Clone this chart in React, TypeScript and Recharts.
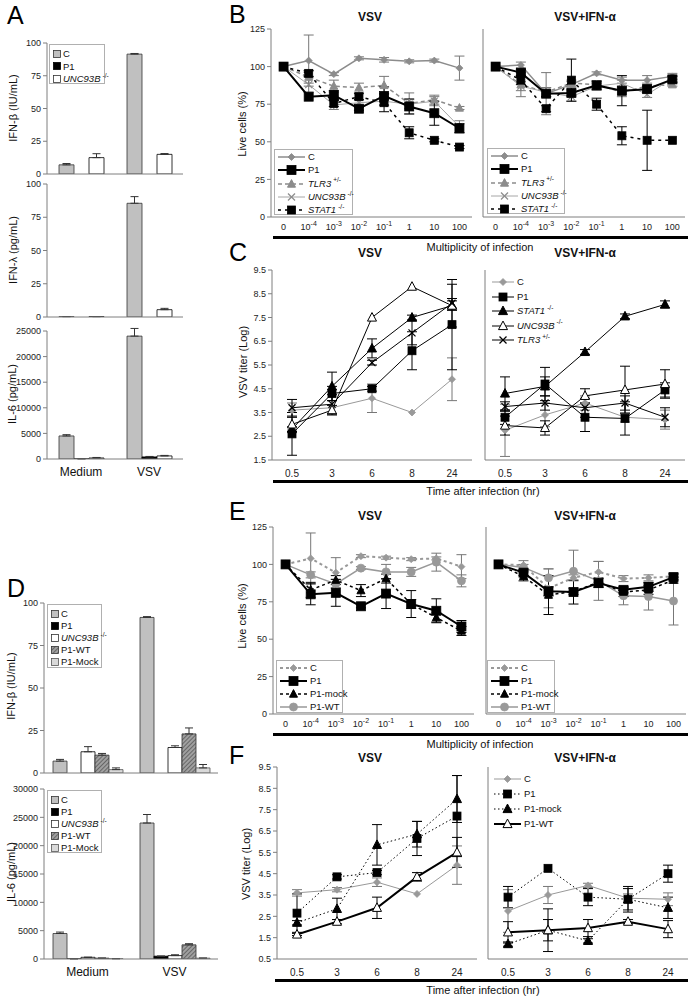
import React from 'react';
import { BarChart, Bar, LineChart, Line, XAxis, YAxis, ErrorBar } from 'recharts';

const FONT = '"Liberation Sans", Arial, Helvetica, sans-serif';

// ---------- categories and ticks ----------
const groups = ['Medium', 'VSV'];
const mois = ['0', '-4', '-3', '-2', '-1', '1', '10', '100'];
const hours = ['0.5', '3', '6', '8', '24'];

const pctTicks = [0, 25, 50, 75, 100, 125];
const ifnTicks = [0, 25, 50, 75, 100];
const il6TicksA = [0, 5000, 10000, 15000, 20000, 25000];
const il6TicksD = [0, 5000, 10000, 15000, 20000, 25000, 30000];
const titerTicksC = [1.5, 2.5, 3.5, 4.5, 5.5, 6.5, 7.5, 8.5, 9.5];
const titerTicksF = [0.5, 1.5, 2.5, 3.5, 4.5, 5.5, 6.5, 7.5, 8.5, 9.5];

// ---------- A: cytokines ----------
const aIfnbC = [7, 91.5];
const aIfnbP1 = [0, 0];
const aIfnbUnc = [12.5, 15];
const aIfnbCErr = [1, 0.5];
const aIfnbP1Err = [0, 0];
const aIfnbUncErr = [3, 0.6];

const aIfnlC = [0.3, 85.5];
const aIfnlP1 = [0, 0];
const aIfnlUnc = [0.3, 5.5];
const aIfnlCErr = [0, 5];
const aIfnlP1Err = [0, 0];
const aIfnlUncErr = [0, 1];

const aIl6C = [4500, 24000];
const aIl6P1 = [30, 400];
const aIl6Unc = [200, 600];
const aIl6CErr = [250, 1500];
const aIl6P1Err = [0, 100];
const aIl6UncErr = [100, 100];

// ---------- D: cytokines with complemented cells ----------
const dIfnbC = [7, 91.5];
const dIfnbP1 = [0, 0];
const dIfnbUnc = [12.5, 15];
const dIfnbWt = [10.5, 23];
const dIfnbMock = [2, 3];
const dIfnbCErr = [1, 0.5];
const dIfnbP1Err = [0, 0];
const dIfnbUncErr = [3, 1];
const dIfnbWtErr = [1, 3.5];
const dIfnbMockErr = [1, 2];

const dIl6C = [4500, 24000];
const dIl6P1 = [20, 500];
const dIl6Unc = [300, 600];
const dIl6Wt = [150, 2500];
const dIl6Mock = [50, 150];
const dIl6CErr = [250, 1500];
const dIl6P1Err = [0, 0];
const dIl6UncErr = [0, 150];
const dIl6WtErr = [0, 200];
const dIl6MockErr = [0, 0];

// ---------- B: live cells ----------
const bVsvC = [100, 104, 95, 105.5, 104.5, 103.5, 104, 99];
const bVsvCErr = [0, 17, 1, 1, 1.5, 1, 1, 8];
const bVsvP1 = [100, 80, 81, 72, 80.5, 73.5, 69, 59];
const bVsvP1Err = [0, 0, 3, 1, 6, 5, 8, 3];
const bVsvTlr3 = [100, 93, 87, 86, 87.5, 75.5, 78, 72.5];
const bVsvTlr3Err = [0, 4, 4, 3, 6, 7, 3, 1];
const bVsvUnc = [100, 88, 74.5, 76, 77, 75, 77, 60];
const bVsvUncErr = [0, 5, 3, 2, 3, 3, 3, 4];
const bVsvStat1 = [100, 95.5, 75.5, 80, 76, 56, 51, 46.5];
const bVsvStat1Err = [0, 2, 2, 2, 6, 4, 1, 1];

const bIfnC = [100, 101, 82, 88, 95.5, 91, 91, 93.5];
const bIfnCErr = [0, 2, 14, 2, 1, 2, 3, 2];
const bIfnP1 = [100, 96, 82, 82.5, 87.5, 84, 85, 91.5];
const bIfnP1Err = [0, 2, 2, 2, 3, 10, 2, 2];
const bIfnTlr3 = [100, 88, 83, 89, 88, 83, 87, 88];
const bIfnTlr3Err = [0, 8, 3, 2, 2, 3, 2, 1];
const bIfnUnc = [100, 87, 83, 80, 87, 89, 81.5, 92];
const bIfnUncErr = [0, 3, 3, 3, 2, 2, 2, 2];
const bIfnStat1 = [100, 91, 72, 91, 75, 54, 51, 51];
const bIfnStat1Err = [0, 3, 2, 14, 4, 6, 20, 0];

// ---------- C: VSV titer ----------
const cVsvC = [3.6, 3.7, 4.1, 3.5, 4.9];
const cVsvCErr = [0.3, 0.3, 0.6, 0, 0.9];
const cVsvP1 = [2.6, 4.3, 4.5, 6.1, 7.2];
const cVsvP1Err = [0.9, 0.3, 0.1, 0.8, 1.9];
const cVsvStat1 = [2.8, 4.6, 6.2, 7.5, 8.0];
const cVsvStat1Err = [0.1, 0.6, 0.4, 0.1, 0.9];
const cVsvUnc = [3.0, 3.6, 7.5, 8.8, 8.0];
const cVsvUncErr = [0.3, 0.2, 0, 0, 0.2];
const cVsvTlr3 = [3.7, 3.85, 5.6, 6.85, 8.1];
const cVsvTlr3Err = [0.35, 0.4, 0.1, 0.5, 0.2];

const cIfnC = [2.75, 3.4, 3.9, 3.3, 3.2];
const cIfnCErr = [1.1, 0.5, 0.3, 0.2, 0.4];
const cIfnP1 = [3.3, 4.7, 3.3, 3.25, 4.45];
const cIfnP1Err = [0.3, 0.7, 0.6, 0.7, 0.3];
const cIfnStat1 = [4.3, 4.6, 6.05, 7.55, 8.05];
const cIfnStat1Err = [0.7, 0.4, 0.1, 0.1, 0.15];
const cIfnUnc = [2.95, 2.85, 4.2, 4.45, 4.7];
const cIfnUncErr = [0.4, 0.3, 0.3, 1.0, 0.6];
const cIfnTlr3 = [3.75, 3.9, 3.7, 3.9, 3.3];
const cIfnTlr3Err = [0.2, 0.3, 0.4, 0.3, 0.4];

// ---------- E: live cells, complemented ----------
const eVsvC = [100, 104, 94.5, 105.5, 104.5, 103.5, 104, 98.5];
const eVsvCErr = [0, 17, 10, 1, 1, 1, 1, 8];
const eVsvP1 = [100, 80, 81, 72, 80.5, 73.5, 69, 58.5];
const eVsvP1Err = [0, 7, 9, 1, 10, 9, 8, 4];
const eVsvMock = [100, 83, 89.5, 82.5, 90.5, 73.5, 64.5, 55.5];
const eVsvMockErr = [0, 5, 3, 4, 3, 3, 3, 3];
const eVsvWt = [100, 93, 87, 97.5, 95, 95, 101.5, 89];
const eVsvWtErr = [0, 2, 3, 1, 5, 3, 6, 4];

const eIfnC = [100, 99.5, 84, 91, 95, 90.5, 91, 92];
const eIfnCErr = [0, 3, 13, 2, 7, 2, 2, 2];
const eIfnP1 = [100, 94.5, 82, 81.5, 87.5, 83, 85, 91.5];
const eIfnP1Err = [0, 2, 3, 8, 3, 2, 3, 2];
const eIfnMock = [100, 92, 79.5, 82, 88, 81.5, 83, 89.5];
const eIfnMockErr = [0, 3, 13, 2, 3, 3, 3, 2];
const eIfnWt = [100, 98, 91, 95.5, 89, 79, 78.5, 75.5];
const eIfnWtErr = [0, 2, 6, 14, 13, 6, 9, 16];

// ---------- F: VSV titer, complemented ----------
const fVsvC = [3.6, 3.75, 4.1, 3.55, 4.9];
const fVsvCErr = [0.15, 0.1, 0.2, 0, 0.9];
const fVsvP1 = [2.65, 4.35, 4.55, 6.15, 7.2];
const fVsvP1Err = [0.9, 0.1, 0.1, 0.8, 1.9];
const fVsvMock = [2.2, 2.85, 5.85, 6.35, 8.0];
const fVsvMockErr = [0.1, 0.5, 0.95, 0.6, 1.1];
const fVsvWt = [1.65, 2.25, 2.9, 4.35, 5.5];
const fVsvWtErr = [0.05, 0.1, 0.5, 0.2, 0.7];

const fIfnC = [2.75, 3.5, 3.95, 3.35, 3.3];
const fIfnCErr = [1.0, 0.4, 0.1, 0.2, 0.3];
const fIfnP1 = [3.4, 4.75, 3.4, 3.3, 4.5];
const fIfnP1Err = [0.5, 0, 0.4, 0.5, 0.4];
const fIfnMock = [1.2, 1.85, 1.35, 3.3, 2.9];
const fIfnMockErr = [0.1, 1.0, 0.1, 0.6, 0.5];
const fIfnWt = [1.75, 1.85, 1.95, 2.25, 1.9];
const fIfnWtErr = [0.5, 0.5, 0.4, 0.1, 0.4];

// ---------- table builders ----------
type Col = [string, number[], number[]];

const barRows = (cats: string[], cols: Col[]) =>
  cats.map((cat, i) => {
    const row: Record<string, any> = { cat };
    cols.forEach(([k, v, e]) => {
      row[k] = v[i];
      row[k + 'E'] = [0, e[i]];
    });
    return row;
  });

const lineRows = (cats: string[], cols: Col[]) =>
  cats.map((cat, i) => {
    const row: Record<string, any> = { cat };
    cols.forEach(([k, v, e]) => {
      row[k] = v[i];
      row[k + 'E'] = e[i];
    });
    return row;
  });

// ---------- markers ----------
type Shape = 'diamond' | 'square' | 'triangle' | 'circle' | 'x';

const Marker = ({ shape, cx, cy, fill, stroke, s }: { shape: Shape; cx: number; cy: number; fill: string; stroke: string; s: number }) => {
  if (shape === 'diamond')
    return <polygon points={`${cx},${cy - s} ${cx + s},${cy} ${cx},${cy + s} ${cx - s},${cy}`} fill={fill} stroke={stroke} strokeWidth={0.8} />;
  if (shape === 'square') return <rect x={cx - s} y={cy - s} width={2 * s} height={2 * s} fill={fill} stroke={stroke} strokeWidth={0.8} />;
  if (shape === 'triangle')
    return <polygon points={`${cx},${cy - s * 1.1} ${cx + s},${cy + s * 0.8} ${cx - s},${cy + s * 0.8}`} fill={fill} stroke={stroke} strokeWidth={1} />;
  if (shape === 'circle') return <circle cx={cx} cy={cy} r={s} fill={fill} stroke={stroke} strokeWidth={0.8} />;
  return (
    <g stroke={stroke} strokeWidth={1.2}>
      <line x1={cx - s} y1={cy - s} x2={cx + s} y2={cy + s} />
      <line x1={cx - s} y1={cy + s} x2={cx + s} y2={cy - s} />
    </g>
  );
};

type Spec = {
  key: string;
  color: string;
  width: number;
  dash?: string;
  shape: Shape;
  fill: string;
  mstroke: string;
  size: number;
};

const dotFn = (sp: Spec) => (p: any) =>
  <Marker key={`${sp.key}-${p.index}`} shape={sp.shape} cx={p.cx} cy={p.cy} fill={sp.fill} stroke={sp.mstroke} s={sp.size} />;

const GRAY = '#8c8c8c';

const bSpecs: Spec[] = [
  { key: 'C', color: GRAY, width: 1.5, shape: 'diamond', fill: GRAY, mstroke: GRAY, size: 3.5 },
  { key: 'TLR3', color: GRAY, width: 1.5, dash: '4 3', shape: 'triangle', fill: GRAY, mstroke: GRAY, size: 4 },
  { key: 'UNC', color: '#a6a6a6', width: 1, shape: 'x', fill: 'none', mstroke: GRAY, size: 3.5 },
  { key: 'STAT1', color: '#000', width: 1.5, dash: '3 4', shape: 'square', fill: '#000', mstroke: '#000', size: 4 },
  { key: 'P1', color: '#000', width: 2, shape: 'square', fill: '#000', mstroke: '#000', size: 4.5 },
];

const cSpecs: Spec[] = [
  { key: 'C', color: '#999', width: 1, shape: 'diamond', fill: '#999', mstroke: '#999', size: 3.5 },
  { key: 'P1', color: '#000', width: 1, shape: 'square', fill: '#000', mstroke: '#000', size: 4 },
  { key: 'STAT1', color: '#000', width: 1, shape: 'triangle', fill: '#000', mstroke: '#000', size: 4.5 },
  { key: 'UNC', color: '#000', width: 1, shape: 'triangle', fill: '#fff', mstroke: '#000', size: 4.5 },
  { key: 'TLR3', color: '#000', width: 1, shape: 'x', fill: 'none', mstroke: '#000', size: 3.5 },
];

const eSpecs: Spec[] = [
  { key: 'C', color: '#999', width: 2, dash: '3 3', shape: 'diamond', fill: '#999', mstroke: '#999', size: 3.5 },
  { key: 'WT', color: '#999', width: 1.5, shape: 'circle', fill: '#999', mstroke: '#999', size: 4 },
  { key: 'Mock', color: '#000', width: 1.5, dash: '3 3', shape: 'triangle', fill: '#000', mstroke: '#000', size: 4 },
  { key: 'P1', color: '#000', width: 2, shape: 'square', fill: '#000', mstroke: '#000', size: 4.5 },
];

const fSpecs: Spec[] = [
  { key: 'C', color: '#999', width: 1, shape: 'diamond', fill: '#999', mstroke: '#999', size: 3.5 },
  { key: 'P1', color: '#000', width: 1, dash: '1.5 2.5', shape: 'square', fill: '#000', mstroke: '#000', size: 4 },
  { key: 'Mock', color: '#000', width: 1, dash: '1.5 2.5', shape: 'triangle', fill: '#000', mstroke: '#000', size: 4.5 },
  { key: 'WT', color: '#000', width: 2, shape: 'triangle', fill: '#fff', mstroke: '#000', size: 4.5 },
];

const specOf = (list: Spec[], key: string) => list.find((s) => s.key === key) as Spec;

// ---------- data tables ----------
const aIfnbRows = barRows(groups, [['C', aIfnbC, aIfnbCErr], ['P1', aIfnbP1, aIfnbP1Err], ['UNC', aIfnbUnc, aIfnbUncErr]]);
const aIfnlRows = barRows(groups, [['C', aIfnlC, aIfnlCErr], ['P1', aIfnlP1, aIfnlP1Err], ['UNC', aIfnlUnc, aIfnlUncErr]]);
const aIl6Rows = barRows(groups, [['C', aIl6C, aIl6CErr], ['P1', aIl6P1, aIl6P1Err], ['UNC', aIl6Unc, aIl6UncErr]]);
const dIfnbRows = barRows(groups, [
  ['C', dIfnbC, dIfnbCErr], ['P1', dIfnbP1, dIfnbP1Err], ['UNC', dIfnbUnc, dIfnbUncErr], ['WT', dIfnbWt, dIfnbWtErr], ['Mock', dIfnbMock, dIfnbMockErr],
]);
const dIl6Rows = barRows(groups, [
  ['C', dIl6C, dIl6CErr], ['P1', dIl6P1, dIl6P1Err], ['UNC', dIl6Unc, dIl6UncErr], ['WT', dIl6Wt, dIl6WtErr], ['Mock', dIl6Mock, dIl6MockErr],
]);

const bVsvRows = lineRows(mois, [
  ['C', bVsvC, bVsvCErr], ['P1', bVsvP1, bVsvP1Err], ['TLR3', bVsvTlr3, bVsvTlr3Err], ['UNC', bVsvUnc, bVsvUncErr], ['STAT1', bVsvStat1, bVsvStat1Err],
]);
const bIfnRows = lineRows(mois, [
  ['C', bIfnC, bIfnCErr], ['P1', bIfnP1, bIfnP1Err], ['TLR3', bIfnTlr3, bIfnTlr3Err], ['UNC', bIfnUnc, bIfnUncErr], ['STAT1', bIfnStat1, bIfnStat1Err],
]);
const cVsvRows = lineRows(hours, [
  ['C', cVsvC, cVsvCErr], ['P1', cVsvP1, cVsvP1Err], ['STAT1', cVsvStat1, cVsvStat1Err], ['UNC', cVsvUnc, cVsvUncErr], ['TLR3', cVsvTlr3, cVsvTlr3Err],
]);
const cIfnRows = lineRows(hours, [
  ['C', cIfnC, cIfnCErr], ['P1', cIfnP1, cIfnP1Err], ['STAT1', cIfnStat1, cIfnStat1Err], ['UNC', cIfnUnc, cIfnUncErr], ['TLR3', cIfnTlr3, cIfnTlr3Err],
]);
const eVsvRows = lineRows(mois, [['C', eVsvC, eVsvCErr], ['P1', eVsvP1, eVsvP1Err], ['Mock', eVsvMock, eVsvMockErr], ['WT', eVsvWt, eVsvWtErr]]);
const eIfnRows = lineRows(mois, [['C', eIfnC, eIfnCErr], ['P1', eIfnP1, eIfnP1Err], ['Mock', eIfnMock, eIfnMockErr], ['WT', eIfnWt, eIfnWtErr]]);
const fVsvRows = lineRows(hours, [['C', fVsvC, fVsvCErr], ['P1', fVsvP1, fVsvP1Err], ['Mock', fVsvMock, fVsvMockErr], ['WT', fVsvWt, fVsvWtErr]]);
const fIfnRows = lineRows(hours, [['C', fIfnC, fIfnCErr], ['P1', fIfnP1, fIfnP1Err], ['Mock', fIfnMock, fIfnMockErr], ['WT', fIfnWt, fIfnWtErr]]);

// ---------- ticks ----------
const MoiTick = ({ x, y, payload }: any) => {
  const v = String(payload.value);
  if (v.startsWith('-'))
    return (
      <text x={x} y={y + 13} textAnchor="middle" fontSize={9} fill="#222" fontFamily={FONT}>
        <tspan>10</tspan>
        <tspan dy={-4} fontSize={7}>{v}</tspan>
      </text>
    );
  return (
    <text x={x} y={y + 13} textAnchor="middle" fontSize={9} fill="#222" fontFamily={FONT}>
      {v}
    </text>
  );
};

const HourTick = ({ x, y, payload }: any) => (
  <text x={x} y={y + 17} textAnchor="middle" fontSize={10} fill="#222" fontFamily={FONT}>
    {payload.value}
  </text>
);

// ---------- panels ----------
type BarSpec = { key: string; fill: string; stroke: string };

const barSpecs3: BarSpec[] = [
  { key: 'C', fill: '#c0c0c0', stroke: '#333' },
  { key: 'P1', fill: '#000', stroke: '#000' },
  { key: 'UNC', fill: '#fff', stroke: '#000' },
];
const barSpecs5: BarSpec[] = [
  ...barSpecs3,
  { key: 'WT', fill: 'url(#hatchWT)', stroke: '#333' },
  { key: 'Mock', fill: '#d9d9d9', stroke: '#555' },
];

function BarPanel({ x0, y0, x1, y1, rows, specs, max, ticks, barSize, showCats }: {
  x0: number; y0: number; x1: number; y1: number; rows: any[]; specs: BarSpec[]; max: number; ticks: number[]; barSize: number; showCats: boolean;
}) {
  const yw = 42;
  const top = 6;
  const right = 6;
  const xh = showCats ? 24 : 8;
  return (
    <div style={{ position: 'absolute', left: x0 - yw, top: y0 - top }}>
      <BarChart width={x1 - x0 + yw + right} height={y1 - y0 + top + xh} data={rows} margin={{ top, right, left: 0, bottom: 0 }} barGap={0} barSize={barSize}>
        <XAxis dataKey="cat" height={xh} tickLine={false} axisLine={{ stroke: '#7f7f7f' }} tick={showCats ? { fontSize: 12, fill: '#111', fontFamily: FONT } : false} />
        <YAxis width={yw} domain={[0, max]} ticks={ticks} interval={0} tickSize={4} allowDataOverflow axisLine={{ stroke: '#7f7f7f' }} tickLine={{ stroke: '#7f7f7f' }} tick={{ fontSize: 9, fill: '#222', fontFamily: FONT }} />
        {specs.map((s) => (
          <Bar key={s.key} dataKey={s.key} fill={s.fill} stroke={s.stroke} strokeWidth={0.8} isAnimationActive={false}>
            <ErrorBar dataKey={`${s.key}E`} width={4} stroke="#333" strokeWidth={1} />
          </Bar>
        ))}
      </BarChart>
    </div>
  );
}

function LinePanel({ x0, y0, x1, y1, rows, specs, domain, ticks, yLabels, kind }: {
  x0: number; y0: number; x1: number; y1: number; rows: any[]; specs: Spec[]; domain: [number, number]; ticks: number[]; yLabels: boolean; kind: 'moi' | 'hour';
}) {
  const yw = 32;
  const top = 6;
  const right = 4;
  const xh = 22;
  const n = rows.length;
  const pad = (x1 - x0) / n / 2;
  return (
    <div style={{ position: 'absolute', left: x0 - yw, top: y0 - top }}>
      <LineChart width={x1 - x0 + yw + right} height={y1 - y0 + top + xh} data={rows} margin={{ top, right, left: 0, bottom: 0 }}>
        <XAxis dataKey="cat" type="category" height={xh} padding={{ left: pad, right: pad }} interval={0} tickLine={false} tickSize={0} tickMargin={0} axisLine={{ stroke: '#7f7f7f' }} tick={kind === 'moi' ? <MoiTick /> : <HourTick />} />
        <YAxis type="number" width={yw} domain={domain} ticks={ticks} interval={0} tickSize={4} allowDataOverflow axisLine={{ stroke: '#7f7f7f' }} tickLine={{ stroke: '#7f7f7f' }} tick={yLabels ? { fontSize: 9, fill: '#222', fontFamily: FONT } : false} />
        {specs.map((s) => (
          <Line key={s.key} type="linear" dataKey={s.key} stroke={s.color} strokeWidth={s.width} strokeDasharray={s.dash} dot={dotFn(s)} activeDot={false} isAnimationActive={false}>
            <ErrorBar dataKey={`${s.key}E`} width={5} stroke={s.color === '#000' ? '#000' : '#777'} strokeWidth={1} direction="y" />
          </Line>
        ))}
      </LineChart>
    </div>
  );
}

// ---------- text helpers ----------
const abs = (left: number, top: number, extra: React.CSSProperties = {}): React.CSSProperties => ({ position: 'absolute', left, top, ...extra });

const Letter = ({ x, y, t }: { x: number; y: number; t: string }) => (
  <div style={abs(x, y, { fontSize: 25, lineHeight: '25px', color: '#000' })}>{t}</div>
);

const Title = ({ cx, cy, t }: { cx: number; cy: number; t: string }) => (
  <div style={abs(cx - 60, cy - 8, { width: 120, textAlign: 'center', fontSize: 12, fontWeight: 'bold', lineHeight: '16px' })}>{t}</div>
);

const YLabel = ({ cx, cy, t }: { cx: number; cy: number; t: string }) => (
  <div style={abs(cx - 60, cy - 7, { width: 120, textAlign: 'center', fontSize: 11, lineHeight: '14px', transform: 'rotate(-90deg)', whiteSpace: 'nowrap' })}>{t}</div>
);

const Rule = ({ x0, x1, y }: { x0: number; x1: number; y: number }) => (
  <div style={abs(x0, y - 1, { width: x1 - x0, height: 2.5, background: '#000' })} />
);

const XCaption = ({ cx, cy, t }: { cx: number; cy: number; t: string }) => (
  <div style={abs(cx - 100, cy - 7, { width: 200, textAlign: 'center', fontSize: 11, lineHeight: '14px' })}>{t}</div>
);

const geno = (name: string, sup: string) => (
  <>
    <i>{name}</i>
    <sup style={{ fontSize: 6.5, lineHeight: 0, marginLeft: 2 }}>{sup}</sup>
  </>
);

function BarLegend({ left, top, width, height, items, step }: {
  left: number; top: number; width: number; height: number; items: { label: React.ReactNode; fill: string; stroke: string }[]; step: number;
}) {
  return (
    <div style={abs(left, top, { width, height, border: '1px solid #b0b0b0', boxSizing: 'border-box', background: '#fff' })}>
      {items.map((it, i) => (
        <div key={i} style={abs(3, 3 + i * step, { height: 11, display: 'flex', alignItems: 'center', whiteSpace: 'nowrap', fontSize: 9.5, lineHeight: '11px' })}>
          <svg width={8} height={8} style={{ marginRight: 2 }}>
            <rect x={0.5} y={0.5} width={7} height={7} fill={it.fill} stroke={it.stroke} strokeWidth={0.8} />
          </svg>
          <span>{it.label}</span>
        </div>
      ))}
    </div>
  );
}

function LineLegend({ left, top, width, height, items, step, sample, boxed }: {
  left: number; top: number; width: number; height: number; items: { label: React.ReactNode; spec: Spec }[]; step: number; sample: number; boxed: boolean;
}) {
  return (
    <div style={abs(left, top, { width, height, border: boxed ? '1px solid #b0b0b0' : 'none', boxSizing: 'border-box', background: boxed ? '#fff' : 'transparent' })}>
      {items.map((it, i) => (
        <div key={i} style={abs(3, 1 + i * step, { height: 12, display: 'flex', alignItems: 'center', whiteSpace: 'nowrap', fontSize: 9.5, lineHeight: '12px' })}>
          <svg width={sample} height={12}>
            <line x1={0} y1={6} x2={sample} y2={6} stroke={it.spec.color} strokeWidth={it.spec.width} strokeDasharray={it.spec.dash} />
            <Marker shape={it.spec.shape} cx={sample / 2} cy={6} fill={it.spec.fill} stroke={it.spec.mstroke} s={it.spec.size} />
          </svg>
          <span style={{ marginLeft: 3 }}>{it.label}</span>
        </div>
      ))}
    </div>
  );
}

const bar3Legend = [
  { label: 'C', fill: '#c0c0c0', stroke: '#333' },
  { label: 'P1', fill: '#000', stroke: '#000' },
  { label: geno('UNC93B', '-/-'), fill: '#fff', stroke: '#333' },
];
const bar5Legend = [
  ...bar3Legend,
  { label: 'P1-WT', fill: 'url(#hatchWT)', stroke: '#333' },
  { label: 'P1-Mock', fill: '#d9d9d9', stroke: '#555' },
];

const bLegend = [
  { label: 'C', spec: specOf(bSpecs, 'C') },
  { label: 'P1', spec: specOf(bSpecs, 'P1') },
  { label: geno('TLR3', '+/-'), spec: specOf(bSpecs, 'TLR3') },
  { label: geno('UNC93B', '-/-'), spec: specOf(bSpecs, 'UNC') },
  { label: geno('STAT1', '-/-'), spec: specOf(bSpecs, 'STAT1') },
];
const cLegend = [
  { label: 'C', spec: specOf(cSpecs, 'C') },
  { label: 'P1', spec: specOf(cSpecs, 'P1') },
  { label: geno('STAT1', '-/-'), spec: specOf(cSpecs, 'STAT1') },
  { label: geno('UNC93B', '-/-'), spec: specOf(cSpecs, 'UNC') },
  { label: geno('TLR3', '+/-'), spec: specOf(cSpecs, 'TLR3') },
];
const eLegend = [
  { label: 'C', spec: specOf(eSpecs, 'C') },
  { label: 'P1', spec: specOf(eSpecs, 'P1') },
  { label: 'P1-mock', spec: specOf(eSpecs, 'Mock') },
  { label: 'P1-WT', spec: specOf(eSpecs, 'WT') },
];
const fLegend = [
  { label: 'C', spec: specOf(fSpecs, 'C') },
  { label: 'P1', spec: specOf(fSpecs, 'P1') },
  { label: 'P1-mock', spec: specOf(fSpecs, 'Mock') },
  { label: 'P1-WT', spec: specOf(fSpecs, 'WT') },
];

export default function App() {
  return (
    <div style={{ position: 'absolute', left: 0, top: 0, width: 696, height: 1001, background: '#fff', fontFamily: FONT, color: '#111', overflow: 'hidden' }}>
      <svg width={0} height={0} style={{ position: 'absolute' }}>
        <defs>
          <pattern id="hatchWT" patternUnits="userSpaceOnUse" width={3} height={3} patternTransform="rotate(45)">
            <rect width={3} height={3} fill="#a0a0a0" />
            <line x1={0} y1={0} x2={0} y2={3} stroke="#404040" strokeWidth={1.2} />
          </pattern>
        </defs>
      </svg>

      {/* A */}
      <Letter x={7} y={3} t="A" />
      <BarPanel x0={47} y0={184} x1={183} y1={317} rows={aIfnlRows} specs={barSpecs3} max={100} ticks={ifnTicks} barSize={15} showCats={false} />
      <BarPanel x0={47} y0={43} x1={183} y1={174} rows={aIfnbRows} specs={barSpecs3} max={100} ticks={ifnTicks} barSize={15} showCats={false} />
      <BarPanel x0={47} y0={331} x1={183} y1={459} rows={aIl6Rows} specs={barSpecs3} max={25000} ticks={il6TicksA} barSize={15} showCats />
      <BarLegend left={49} top={44} width={56} height={40} items={bar3Legend} step={12.5} />
      <YLabel cx={13} cy={108} t="IFN-β (IU/mL)" />
      <YLabel cx={13} cy={250} t="IFN-λ (pg/mL)" />
      <YLabel cx={12} cy={394} t="IL-6 (pg/mL)" />

      {/* B */}
      <Letter x={229} y={2} t="B" />
      <Title cx={370} cy={17} t="VSV" />
      <Title cx={585} cy={17} t="VSV+IFN-α" />
      <LinePanel x0={271} y0={29} x1={472} y1={217} rows={bVsvRows} specs={bSpecs} domain={[0, 125]} ticks={pctTicks} yLabels kind="moi" />
      <LinePanel x0={483} y0={29} x1={685} y1={217} rows={bIfnRows} specs={bSpecs} domain={[0, 125]} ticks={pctTicks} yLabels={false} kind="moi" />
      <LineLegend left={274} top={149} width={79} height={66} items={bLegend} step={13.3} sample={27} boxed />
      <LineLegend left={487} top={148} width={78} height={66} items={bLegend} step={13.3} sample={27} boxed />
      <YLabel cx={242} cy={124} t="Live cells (%)" />
      <Rule x0={273} x1={688} y={237} />
      <XCaption cx={480} cy={247} t="Multiplicity of infection" />

      {/* C */}
      <Letter x={229} y={240} t="C" />
      <Title cx={370} cy={253} t="VSV" />
      <Title cx={585} cy={253} t="VSV+IFN-α" />
      <LinePanel x0={272} y0={270} x1={472} y1={460} rows={cVsvRows} specs={cSpecs} domain={[1.5, 9.5]} ticks={titerTicksC} yLabels kind="hour" />
      <LinePanel x0={485} y0={270} x1={685} y1={460} rows={cIfnRows} specs={cSpecs} domain={[1.5, 9.5]} ticks={titerTicksC} yLabels={false} kind="hour" />
      <LineLegend left={489} top={275} width={90} height={74} items={cLegend} step={14.5} sample={22} boxed={false} />
      <YLabel cx={243} cy={362} t="VSV titer (Log)" />
      <Rule x0={273} x1={688} y={481} />
      <XCaption cx={483} cy={491} t="Time after infection (hr)" />

      {/* D */}
      <Letter x={7} y={576} t="D" />
      <BarPanel x0={44} y0={603} x1={218} y1={773} rows={dIfnbRows} specs={barSpecs5} max={100} ticks={ifnTicks} barSize={14} showCats={false} />
      <BarPanel x0={44} y0={789} x1={218} y1={959} rows={dIl6Rows} specs={barSpecs5} max={30000} ticks={il6TicksD} barSize={14} showCats />
      <BarLegend left={47} top={604} width={55} height={64} items={bar5Legend} step={12} />
      <BarLegend left={47} top={790} width={55} height={63} items={bar5Legend} step={12} />
      <YLabel cx={11} cy={686} t="IFN-β (IU/mL)" />
      <YLabel cx={11} cy={872} t="IL-6 (pg/mL)" />

      {/* E */}
      <Letter x={229} y={499} t="E" />
      <Title cx={370} cy={516} t="VSV" />
      <Title cx={585} cy={516} t="VSV+IFN-α" />
      <LinePanel x0={273} y0={527} x1={474} y1={714} rows={eVsvRows} specs={eSpecs} domain={[0, 125]} ticks={pctTicks} yLabels kind="moi" />
      <LinePanel x0={486} y0={527} x1={686} y1={714} rows={eIfnRows} specs={eSpecs} domain={[0, 125]} ticks={pctTicks} yLabels={false} kind="moi" />
      <LineLegend left={276} top={660} width={67} height={53} items={eLegend} step={13} sample={27} boxed />
      <LineLegend left={487} top={660} width={68} height={53} items={eLegend} step={13} sample={27} boxed />
      <YLabel cx={242} cy={616} t="Live cells (%)" />
      <Rule x0={273} x1={688} y={734} />
      <XCaption cx={480} cy={744} t="Multiplicity of infection" />

      {/* F */}
      <Letter x={229} y={743} t="F" />
      <Title cx={370} cy={758} t="VSV" />
      <Title cx={585} cy={758} t="VSV+IFN-α" />
      <LinePanel x0={277} y0={767} x1={477} y1={959} rows={fVsvRows} specs={fSpecs} domain={[0.5, 9.5]} ticks={titerTicksF} yLabels kind="hour" />
      <LinePanel x0={488} y0={767} x1={688} y1={959} rows={fIfnRows} specs={fSpecs} domain={[0.5, 9.5]} ticks={titerTicksF} yLabels={false} kind="hour" />
      <LineLegend left={491} top={772} width={90} height={62} items={fLegend} step={15} sample={27} boxed={false} />
      <YLabel cx={246} cy={864} t="VSV titer (Log)" />
      <Rule x0={275} x1={688} y={980} />
      <XCaption cx={483} cy={990} t="Time after infection (hr)" />
    </div>
  );
}
